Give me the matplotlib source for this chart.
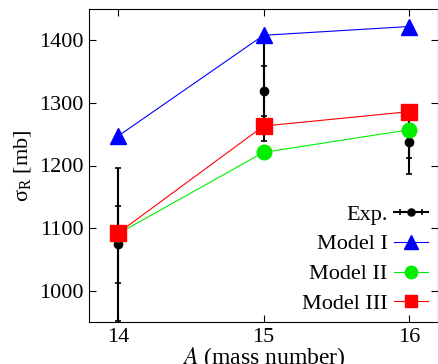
import matplotlib
matplotlib.use("Agg")
import matplotlib.pyplot as plt
import numpy as np

plt.rcParams['font.family'] = ['Liberation Serif', 'DejaVu Serif']
plt.rcParams['mathtext.fontset'] = 'stix'

# ------data------
mass = [14, 15, 16]
exp_val = [1074, 1319, 1237]
exp_err_in = [61, 40, 25]
exp_err_out = [122, 80, 50]
model1 = [1247, 1408, 1422]
model2 = [1091, 1221, 1257]
model3 = [1092, 1263, 1286]

# ------plotting------
fig = plt.figure(figsize=(4.39, 3.64), dpi=100)
ax = fig.add_axes([89/439, 1 - 322/364, (438 - 89)/439, (322 - 9)/364])

ax.errorbar(mass, exp_val, yerr=exp_err_out, fmt='none', ecolor='k',
            elinewidth=1.5, capsize=2, capthick=1.2, zorder=2)
ax.errorbar(mass, exp_val, yerr=exp_err_in, fmt='o', color='k', ms=6,
            elinewidth=1.5, capsize=2, capthick=1.2, zorder=2)

l1, = ax.plot(mass, model1, '-^', color='blue', lw=0.8, ms=12, zorder=3)
l2, = ax.plot(mass, model2, '-o', color='#00ee00', lw=0.8, ms=10.5, zorder=3)
l3, = ax.plot(mass, model3, '-s', color='red', lw=0.8, ms=11, zorder=4)

# proxy for legend (horizontal bar like the original)
hexp = ax.errorbar([np.nan], [np.nan], xerr=[1], fmt='-o', color='k', ms=6,
                   lw=1.5, capsize=2.5, capthick=1.2)

ax.set_xlim(13.8, 16.2)
ax.set_ylim(950, 1450)
ax.set_xticks(mass)
ax.set_yticks([1000, 1100, 1200, 1300, 1400])
ax.tick_params(direction='in', top=True, right=True, labelsize=16, length=5, pad=4)

ax.set_xlabel(r'$A$ (mass number)', fontsize=17, labelpad=-1)
ax.set_ylabel(r'$\mathregular{\sigma_R}$ [mb]', fontsize=16, labelpad=4)

ax.legend([hexp, l1, l2, l3], ['Exp.', 'Model I', 'Model II', 'Model III'],
          loc='lower right', bbox_to_anchor=(1.015, -0.025),
          frameon=False, markerfirst=False, fontsize=16, markerscale=0.85,
          handlelength=1.5, handletextpad=0.3, labelspacing=0.42,
          borderaxespad=0.3)

fig.savefig('out.png', dpi=100)
